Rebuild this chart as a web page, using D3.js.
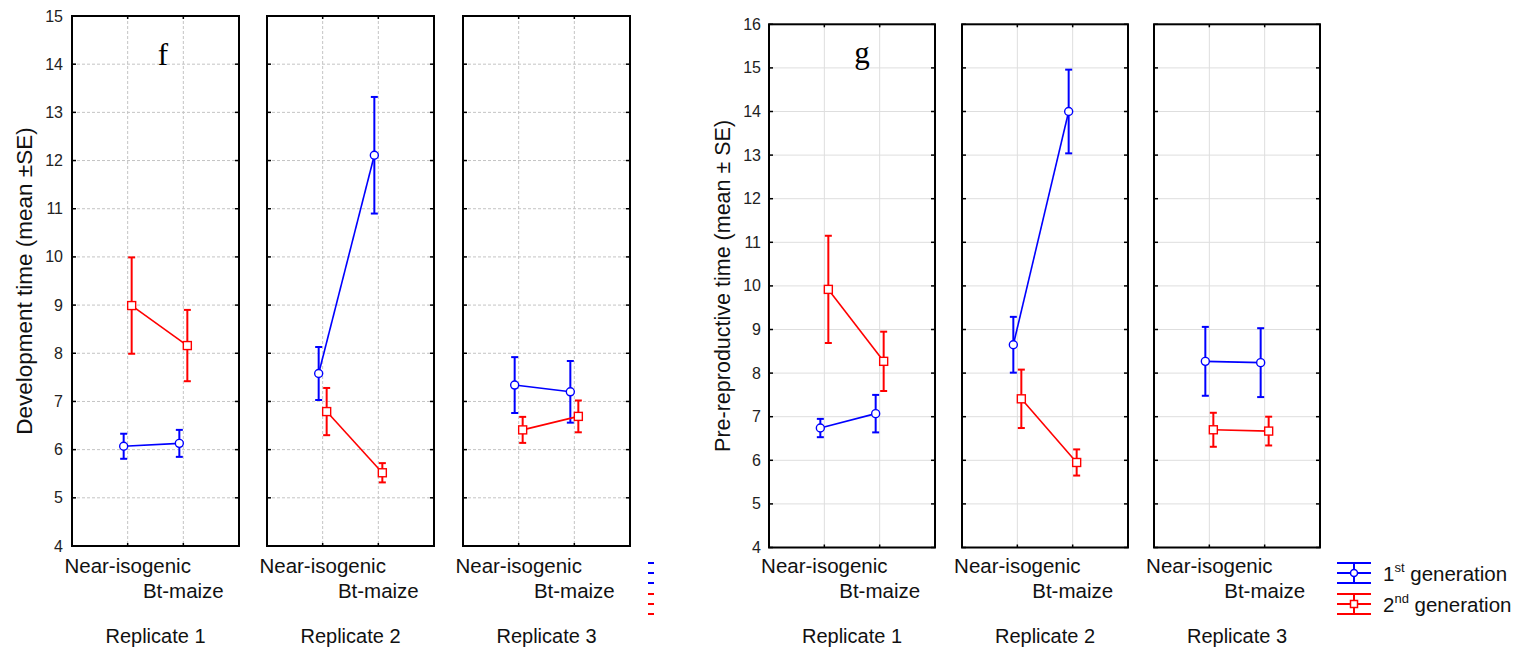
<!DOCTYPE html>
<html>
<head>
<meta charset="utf-8">
<script src="https://cdn.jsdelivr.net/npm/d3@7"></script>
<style>
  body { margin: 0; background: #fff; }
  svg { display: block; font-family: "Liberation Sans", Arial, sans-serif; }
</style>
</head>
<body>
<script>
// two interaction plots (f and g), three replicate panels each

var categories = ["Near-isogenic", "Bt-maize"];
var replicates = ["Replicate 1", "Replicate 2", "Replicate 3"];
var generations = ["1st", "2nd"];

// development time, [near-isogenic, Bt-maize] per replicate
var devGen1Mean = [[6.07, 6.13], [7.58, 12.11], [7.34, 7.20]];
var devGen1SE   = [[0.26, 0.28], [0.55, 1.21], [0.58, 0.64]];
var devGen2Mean = [[8.99, 8.16], [6.79, 5.52], [6.41, 6.69]];
var devGen2SE   = [[1.00, 0.74], [0.49, 0.20], [0.27, 0.33]];
var devTicks = [4, 5, 6, 7, 8, 9, 10, 11, 12, 13, 14, 15];

// pre-reproductive time
var preGen1Mean = [[6.74, 7.07], [8.65, 14.00], [8.27, 8.24]];
var preGen1SE   = [[0.21, 0.43], [0.64, 0.96], [0.79, 0.79]];
var preGen2Mean = [[9.92, 8.27], [7.41, 5.95], [6.70, 6.67]];
var preGen2SE   = [[1.23, 0.68], [0.67, 0.30], [0.39, 0.33]];
var preTicks = [4, 5, 6, 7, 8, 9, 10, 11, 12, 13, 14, 15, 16];

var colors = { "1st": "#0000ff", "2nd": "#ff0000" };

var svg = d3.select("body").append("svg")
    .attr("width", 1522)
    .attr("height", 651);

drawChart({
    letter: "f",
    yTitle: "Development time (mean \u00b1SE)",
    titleSize: 22.5,
    yDomain: [4, 15], yRange: [546, 16],
    ticks: devTicks,
    panelX: [72, 267, 463], panelW: 167,
    dashed: true,
    means: [devGen1Mean, devGen2Mean],
    ses: [devGen1SE, devGen2SE],
    axisTitleX: 32, tickLabelX: 63,
    letterX: 163, letterY: 65,
    legendX: 648, legendClip: 654
});

drawChart({
    letter: "g",
    yTitle: "Pre-reproductive time (mean \u00b1 SE)",
    titleSize: 21.5,
    yDomain: [4, 16], yRange: [547.5, 24.3],
    ticks: preTicks,
    panelX: [769, 962, 1154], panelW: 166,
    dashed: false,
    means: [preGen1Mean, preGen2Mean],
    ses: [preGen1SE, preGen2SE],
    axisTitleX: 730, tickLabelX: 761,
    letterX: 862, letterY: 63,
    legendX: 1337, legendClip: null
});

function drawChart(o){
    var y = d3.scaleLinear().domain(o.yDomain).range(o.yRange);
    var top = o.yRange[1], bottom = o.yRange[0];
    var g = svg.append("g");

    //y axis title
    g.append("text")
        .attr("transform", "translate(" + o.axisTitleX + "," + ((top + bottom) / 2) + ") rotate(-90)")
        .attr("text-anchor", "middle")
        .style("font-size", o.titleSize + "px")
        .style("fill", "#111")
        .text(o.yTitle);

    //tick labels only on the first panel
    g.selectAll(".ylab")
        .data(o.ticks)
        .enter()
        .append("text")
        .attr("x", o.tickLabelX)
        .attr("y", function(d){ return y(d) + 5.5; })
        .attr("text-anchor", "end")
        .style("font-size", "16px")
        .style("fill", "#222")
        .text(function(d){ return d; });

    replicates.forEach(function(rep, r){
        var x0 = o.panelX[r], w = o.panelW;
        var x = d3.scalePoint().domain(categories).range([0, w]).padding(1);
        var off = d3.scalePoint().domain(generations).range([-4, 4]);
        var p = g.append("g").attr("transform", "translate(" + x0 + ",0)");

        //grid
        p.selectAll(".hgrid")
            .data(o.ticks.slice(1, -1))
            .enter()
            .append("line")
            .attr("x1", 0).attr("x2", w)
            .attr("y1", function(d){ return y(d); })
            .attr("y2", function(d){ return y(d); })
            .style("stroke", o.dashed ? "#c4c4c4" : "#dedede")
            .style("stroke-width", 1)
            .style("stroke-dasharray", o.dashed ? "3,2" : null);
        p.selectAll(".vgrid")
            .data(categories)
            .enter()
            .append("line")
            .attr("x1", function(d){ return x(d); })
            .attr("x2", function(d){ return x(d); })
            .attr("y1", top).attr("y2", bottom)
            .style("stroke", o.dashed ? "#c4c4c4" : "#dedede")
            .style("stroke-width", 1)
            .style("stroke-dasharray", o.dashed ? "3,2" : null);

        //inward ticks on all four sides
        o.ticks.forEach(function(t){
            p.append("line").attr("x1", 0).attr("x2", 4)
                .attr("y1", y(t)).attr("y2", y(t))
                .style("stroke", "#000").style("stroke-width", 1.5);
            p.append("line").attr("x1", w - 4).attr("x2", w)
                .attr("y1", y(t)).attr("y2", y(t))
                .style("stroke", "#000").style("stroke-width", 1.5);
        });
        categories.forEach(function(c){
            p.append("line").attr("x1", x(c)).attr("x2", x(c))
                .attr("y1", top).attr("y2", top + 3)
                .style("stroke", "#000").style("stroke-width", 1.5);
            p.append("line").attr("x1", x(c)).attr("x2", x(c))
                .attr("y1", bottom - 3).attr("y2", bottom)
                .style("stroke", "#000").style("stroke-width", 1.5);
        });

        //frame
        p.append("rect")
            .attr("x", 0).attr("y", top)
            .attr("width", w).attr("height", bottom - top)
            .style("fill", "none")
            .style("stroke", "#000")
            .style("stroke-width", 2);

        //series
        generations.forEach(function(gen, s){
            var col = colors[gen];
            var pts = categories.map(function(c, i){
                return { c: c, m: o.means[s][r][i], se: o.ses[s][r][i] };
            });
            var px = function(d){ return x(d.c) + off(gen); };

            p.append("path")
                .datum(pts)
                .attr("d", d3.line().x(px).y(function(d){ return y(d.m); }))
                .style("fill", "none")
                .style("stroke", col)
                .style("stroke-width", 1.6);

            var eb = p.selectAll(".eb" + s)
                .data(pts)
                .enter()
                .append("g");
            eb.append("line")
                .attr("x1", px).attr("x2", px)
                .attr("y1", function(d){ return y(d.m + d.se); })
                .attr("y2", function(d){ return y(d.m - d.se); })
                .style("stroke", col).style("stroke-width", 2);
            [1, -1].forEach(function(sign){
                eb.append("line")
                    .attr("x1", function(d){ return px(d) - 3.5; })
                    .attr("x2", function(d){ return px(d) + 3.5; })
                    .attr("y1", function(d){ return y(d.m + sign * d.se); })
                    .attr("y2", function(d){ return y(d.m + sign * d.se); })
                    .style("stroke", col).style("stroke-width", 2);
            });

            if (gen === "1st") {
                eb.append("circle")
                    .attr("cx", px)
                    .attr("cy", function(d){ return y(d.m); })
                    .attr("r", 4)
                    .style("fill", "#fff")
                    .style("stroke", col)
                    .style("stroke-width", 1.4);
            } else {
                eb.append("rect")
                    .attr("x", function(d){ return px(d) - 4; })
                    .attr("y", function(d){ return y(d.m) - 4; })
                    .attr("width", 8).attr("height", 8)
                    .style("fill", "#fff")
                    .style("stroke", col)
                    .style("stroke-width", 1.4);
            }
        });

        //category and replicate labels
        p.append("text")
            .attr("x", x(categories[0])).attr("y", 573)
            .attr("text-anchor", "middle")
            .style("font-size", "20.5px").style("fill", "#111")
            .text(categories[0]);
        p.append("text")
            .attr("x", x(categories[1])).attr("y", 598)
            .attr("text-anchor", "middle")
            .style("font-size", "20.5px").style("fill", "#111")
            .text(categories[1]);
        p.append("text")
            .attr("x", w / 2).attr("y", 643)
            .attr("text-anchor", "middle")
            .style("font-size", "20px").style("fill", "#111")
            .text(rep);
    });

    //panel letter
    g.append("text")
        .attr("x", o.letterX).attr("y", o.letterY)
        .attr("text-anchor", "middle")
        .style("font-family", "'Liberation Serif', 'Times New Roman', serif")
        .style("font-size", "31px")
        .text(o.letter);

    //legend (the left one is cut off at the figure edge)
    var leg = g.append("g");
    if (o.legendClip) {
        var id = "clip" + o.letter;
        svg.append("clipPath").attr("id", id)
            .append("rect").attr("x", 0).attr("y", 0)
            .attr("width", o.legendClip).attr("height", 651);
        leg.attr("clip-path", "url(#" + id + ")");
    }
    var legY = d3.scalePoint().domain(generations).range([573, 604]);
    generations.forEach(function(gen){
        var cy = legY(gen), col = colors[gen], lx = o.legendX;
        var li = leg.append("g");
        [-10, 0, 10].forEach(function(dy){
            li.append("line").attr("x1", lx).attr("x2", lx + 34)
                .attr("y1", cy + dy).attr("y2", cy + dy)
                .style("stroke", col).style("stroke-width", 2);
        });
        li.append("line").attr("x1", lx + 17).attr("x2", lx + 17)
            .attr("y1", cy - 10).attr("y2", cy + 10)
            .style("stroke", col).style("stroke-width", 2);
        if (gen === "1st") {
            li.append("circle").attr("cx", lx + 17).attr("cy", cy).attr("r", 3.5)
                .style("fill", "#fff").style("stroke", col).style("stroke-width", 1.5);
        } else {
            li.append("rect").attr("x", lx + 13.5).attr("y", cy - 3.5)
                .attr("width", 7).attr("height", 7)
                .style("fill", "#fff").style("stroke", col).style("stroke-width", 1.5);
        }
        var t = li.append("text")
            .attr("x", lx + 46).attr("y", cy + 8)
            .style("font-size", "20.5px").style("fill", "#111");
        t.append("tspan").text(gen === "1st" ? "1" : "2");
        t.append("tspan").attr("dy", -9).style("font-size", "13px")
            .text(gen === "1st" ? "st" : "nd");
        t.append("tspan").attr("dy", 9).text(" generation");
    });
}
</script>
</body>
</html>
